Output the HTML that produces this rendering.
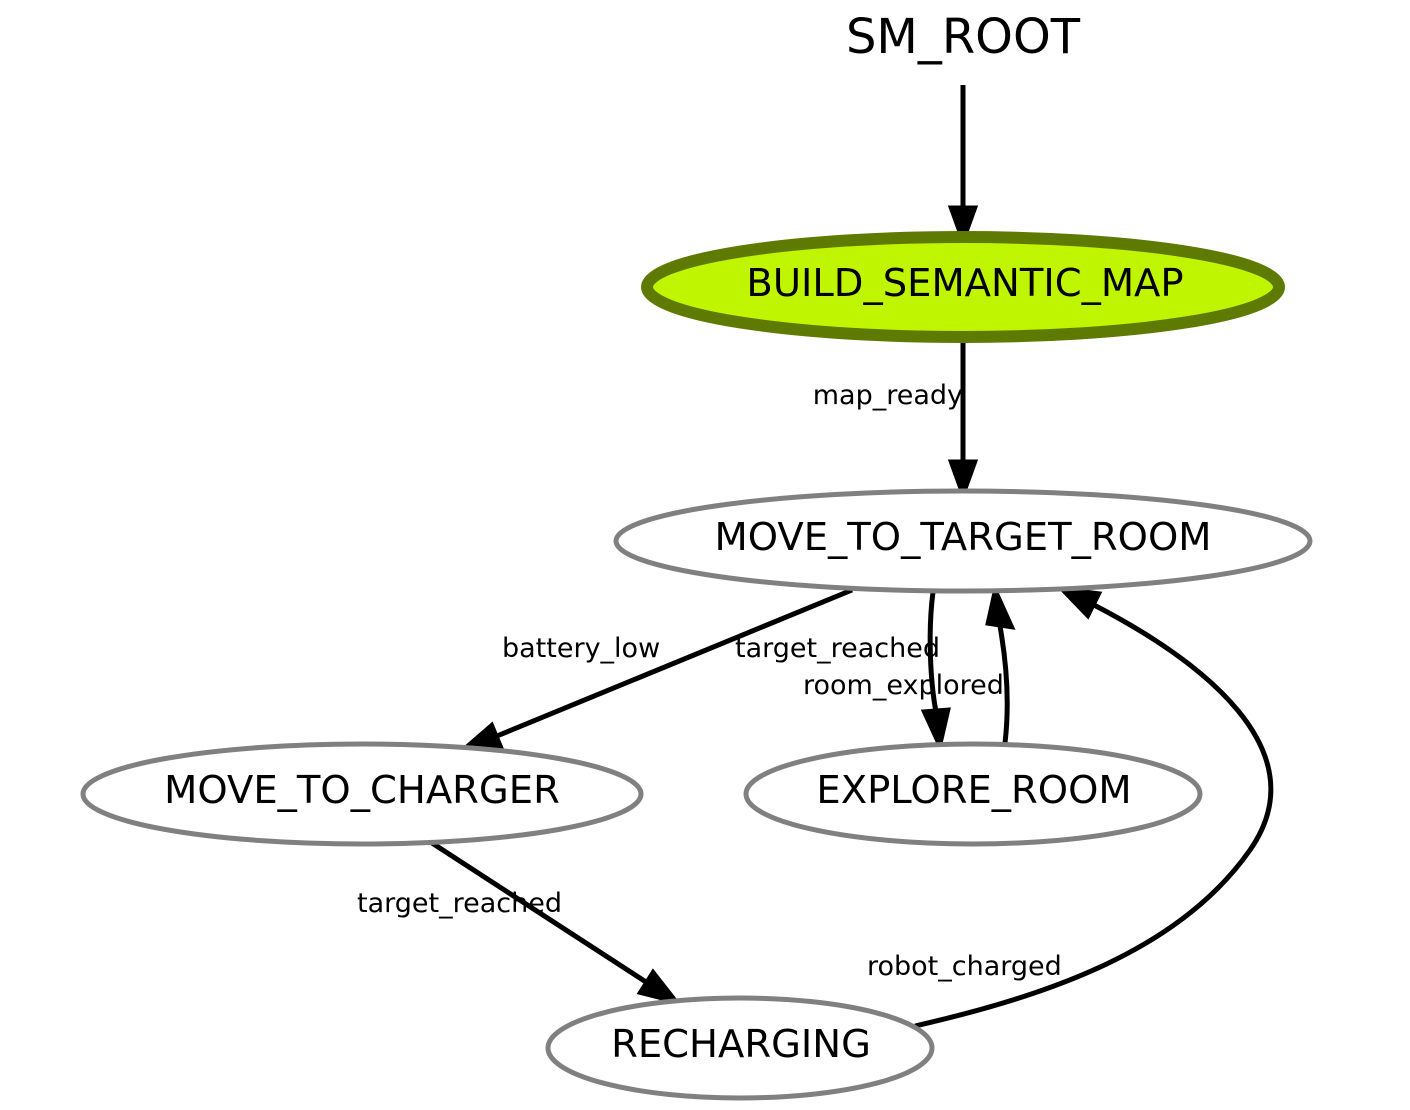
<!DOCTYPE html>
<html><head><meta charset="utf-8"><style>
html,body{margin:0;padding:0;background:#fff;}
svg{display:block;}
text{font-family:"DejaVu Sans","Liberation Sans",sans-serif;fill:#000;}
</style></head><body>
<svg width="1410" height="1110" viewBox="0 0 1410 1110" xmlns="http://www.w3.org/2000/svg">
<text x="963" y="53" font-size="48" text-anchor="middle">SM_ROOT</text>

<!-- edges -->
<g stroke="#000" stroke-width="5" fill="none">
<line x1="963" y1="85" x2="963" y2="207"/>
<line x1="963" y1="340" x2="963" y2="461"/>
<line x1="852" y1="590" x2="497" y2="736"/>
<path d="M933,592 C928,630 930,680 936,712"/>
<path d="M1005,743 C1010,700 1006,660 1000,626"/>
<line x1="432" y1="843" x2="646" y2="982"/>
<path d="M915,1026 C1050,995 1180,950 1250,850 C1320,750 1200,660 1094,605"/>
</g>
<g fill="#000" stroke="#000" stroke-width="3">
<polygon points="950,207 976,207 963,243"/>
<polygon points="950,461 976,461 963,497"/>
<polygon points="502,748 492,724 462,750"/>
<polygon points="923,711 949,709 940,748"/>
<polygon points="987,624 1013,628 995,588"/>
<polygon points="639,993 653,971 678,1003"/>
<polygon points="1100,593 1088,617 1060,588"/>
</g>

<!-- edge labels -->
<g font-size="27">
<text x="963" y="404" text-anchor="end">map_ready</text>
<text x="502" y="657">battery_low</text>
<text x="735" y="657">target_reached</text>
<text x="803" y="694">room_explored</text>
<text x="357" y="912">target_reached</text>
<text x="867" y="975">robot_charged</text>
</g>

<!-- nodes -->
<ellipse cx="963" cy="287" rx="316" ry="50" fill="#bff500" stroke="#5f7a00" stroke-width="12"/>
<text x="965" y="296" font-size="38.5" text-anchor="middle">BUILD_SEMANTIC_MAP</text>

<g fill="#fff" stroke="#808080" stroke-width="5">
<ellipse cx="963" cy="541" rx="347" ry="50"/>
<ellipse cx="362" cy="794" rx="279" ry="50"/>
<ellipse cx="973" cy="794" rx="227" ry="50"/>
<ellipse cx="740" cy="1048" rx="192" ry="50"/>
</g>
<g font-size="38.5" text-anchor="middle">
<text x="963" y="550">MOVE_TO_TARGET_ROOM</text>
<text x="362" y="803">MOVE_TO_CHARGER</text>
<text x="974" y="803">EXPLORE_ROOM</text>
<text x="741" y="1057">RECHARGING</text>
</g>
</svg>
</body></html>
